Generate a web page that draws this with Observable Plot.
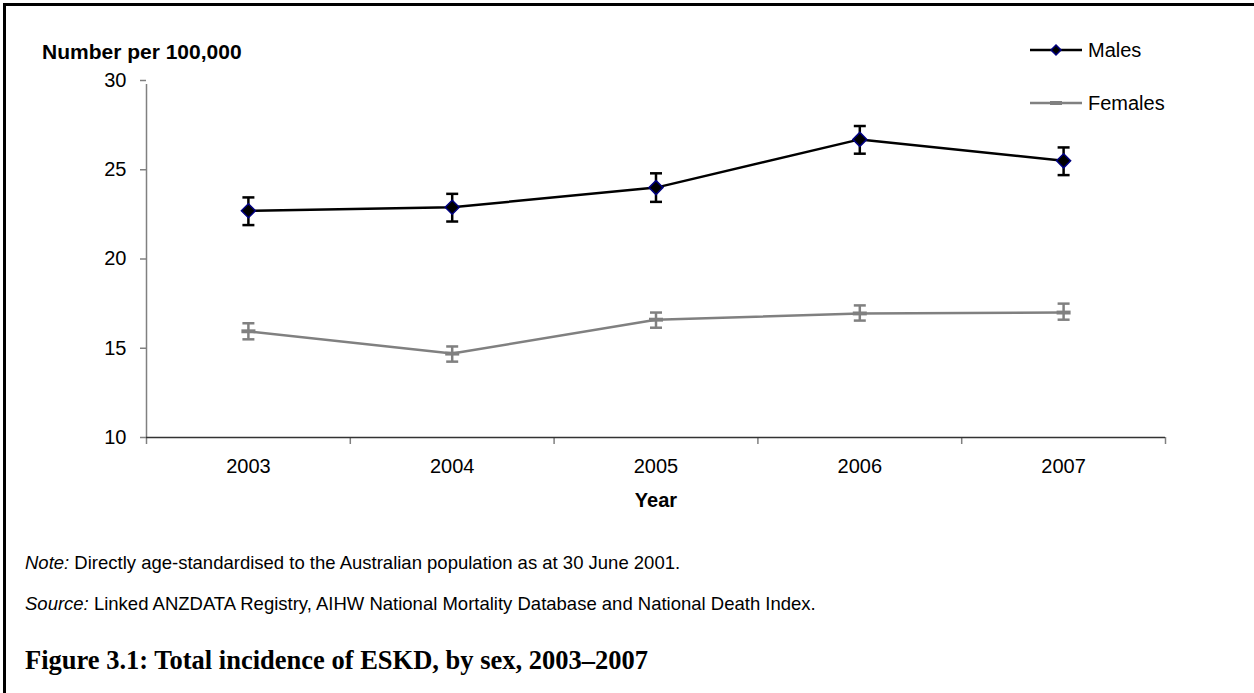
<!DOCTYPE html>
<html>
<head>
<meta charset="utf-8">
<script src="https://cdn.jsdelivr.net/npm/d3@7"></script>
<script src="https://cdn.jsdelivr.net/npm/@observablehq/plot@0.6"></script>
<style>
  html, body { margin: 0; padding: 0; background: #fff; }
  #wrap { position: relative; width: 1254px; height: 693px; overflow: hidden; font-family: "Liberation Sans", Arial, sans-serif; color: #000; }
  .abs { position: absolute; white-space: nowrap; }
  #frameTop { position: absolute; left: 3px; top: 3px; width: 1251px; height: 3px; background: #000; }
  #frameLeft { position: absolute; left: 3px; top: 3px; width: 3px; height: 690px; background: #000; }
</style>
</head>
<body>
<div id="wrap">
  <div id="chart" class="abs" style="left:0;top:0"></div>
  <div id="frameTop"></div>
  <div id="frameLeft"></div>
  <div class="abs" id="ylab" style="left:42px;top:40px;font-weight:bold;font-size:21px;line-height:24px"></div>
  <div class="abs" id="xlab" style="left:656px;top:488px;font-weight:bold;font-size:20px;line-height:24px;transform:translateX(-50%)"></div>
  <svg id="legend" class="abs" style="left:1020px;top:30px" width="234" height="100"></svg>
  <div class="abs" id="note" style="left:25px;top:552px;font-size:18.5px;line-height:22px"></div>
  <div class="abs" id="source" style="left:25px;top:593px;font-size:18.5px;line-height:22px"></div>
  <div class="abs" id="title" style="left:25px;top:645px;font-family:'Liberation Serif','Times New Roman',serif;font-weight:bold;font-size:26.5px;line-height:30px"></div>
</div>
<script>
// ---- data ----
const years = [2003, 2004, 2005, 2006, 2007];
const series = ["Males", "Females"];
const malesRate = [22.7, 22.9, 24.0, 26.7, 25.5];
const malesLow  = [21.9, 22.1, 23.2, 25.9, 24.7];
const malesHigh = [23.45, 23.65, 24.8, 27.45, 26.25];
const femalesRate = [15.95, 14.7, 16.6, 16.95, 17.0];
const femalesLow  = [15.5, 14.25, 16.15, 16.55, 16.6];
const femalesHigh = [16.4, 15.1, 17.0, 17.4, 17.5];
const yTicks = [10, 15, 20, 25, 30];
const yAxisTitle = "Number per 100,000";
const xAxisTitle = "Year";
const noteText = "Directly age-standardised to the Australian population as at 30 June 2001.";
const sourceText = "Linked ANZDATA Registry, AIHW National Mortality Database and National Death Index.";
const figureTitle = "Figure 3.1: Total incidence of ESKD, by sex, 2003\u20132007";

// ---- build table ----
const rows = [];
years.forEach((yr, i) => {
  rows.push({year: yr, sex: "Males", value: malesRate[i], lo: malesLow[i], hi: malesHigh[i]});
});
years.forEach((yr, i) => {
  rows.push({year: yr, sex: "Females", value: femalesRate[i], lo: femalesLow[i], hi: femalesHigh[i]});
});
const males = rows.filter(d => d.sex === "Males");
const females = rows.filter(d => d.sex === "Females");
const boundaries = [years[0] - 0.5, ...years.map(y => y + 0.5)];

const colors = {Males: "#000000", Females: "#808080"};

// custom symbols
const capSymbol = { draw(ctx, size) { const r = Math.sqrt(size / Math.PI); ctx.moveTo(-r, 0); ctx.lineTo(r, 0); } };
const diamondSymbol = { draw(ctx, size) { const r = Math.sqrt(size / Math.PI); ctx.moveTo(0, -r); ctx.lineTo(r, 0); ctx.lineTo(0, r); ctx.lineTo(-r, 0); ctx.closePath(); } };
const dashSymbol = { draw(ctx, size) { const r = Math.sqrt(size / Math.PI); const h = r * 0.28; ctx.moveTo(-r, -h); ctx.lineTo(r, -h); ctx.lineTo(r, h); ctx.lineTo(-r, h); ctx.closePath(); } };

const W = 1254, H = 500;
const plot = Plot.plot({
  width: W, height: H,
  marginLeft: 146, marginRight: 89, marginTop: 80, marginBottom: H - 437,
  style: {fontFamily: "'Liberation Sans', Arial, sans-serif", fontSize: "20px", color: "#000", background: "transparent"},
  x: {domain: [boundaries[0], boundaries[boundaries.length - 1]], axis: null},
  y: {domain: [10, 30], axis: null},
  color: {domain: series, range: [colors.Males, colors.Females]},
  marks: [
    // y axis
    Plot.ruleX([boundaries[0]], {stroke: "#808080", strokeWidth: 1.5, y1: 10, y2: 30, insetBottom: -4}),
    Plot.axisY({ticks: yTicks, tickSize: 6, tickPadding: 14, stroke: "#808080", strokeWidth: 1.5, fill: "#000", fontSize: 20, label: null, tickFormat: d => String(d)}),
    // x axis
    Plot.axisX({ticks: boundaries, tickSize: 7, stroke: "#808080", strokeWidth: 1.5, tickFormat: () => "", label: null}),
    Plot.axisX({ticks: years, tickSize: 0, tickPadding: 21, fill: "#000", fontSize: 20, tickFormat: d => String(d), label: null}),
    Plot.ruleY([10], {stroke: "#333", strokeWidth: 1.5}),
    // lines
    Plot.line(rows, {x: "year", y: "value", z: "sex", stroke: "sex", strokeWidth: 2.5}),
    // error bars
    Plot.ruleX(rows, {x: "year", y1: "lo", y2: "hi", stroke: "sex", strokeWidth: 2.5}),
    Plot.dot(rows, {x: "year", y: "lo", symbol: capSymbol, r: 6, stroke: "sex", strokeWidth: 2.5}),
    Plot.dot(rows, {x: "year", y: "hi", symbol: capSymbol, r: 6, stroke: "sex", strokeWidth: 2.5}),
    // markers
    Plot.dot(males, {x: "year", y: "value", symbol: diamondSymbol, r: 7, fill: "#000", stroke: "#000080", strokeWidth: 1.5}),
    Plot.dot(females, {x: "year", y: "value", symbol: dashSymbol, r: 7, fill: "#808080", stroke: "none"})
  ]
});
document.getElementById("chart").appendChild(plot);

// texts
document.getElementById("ylab").textContent = yAxisTitle;
document.getElementById("xlab").textContent = xAxisTitle;
document.getElementById("note").innerHTML = "<i>Note:</i> " + noteText;
document.getElementById("source").innerHTML = "<i>Source:</i> " + sourceText;
document.getElementById("title").textContent = figureTitle;

// legend
const lg = d3.select("#legend");
const lx0 = 10, lx1 = 62, lmx = 36;
const rowsY = {Males: 20, Females: 73};
series.forEach(s => {
  const g = lg.append("g").attr("transform", `translate(0,${rowsY[s]})`);
  g.append("line").attr("x1", lx0).attr("x2", lx1).attr("y1", 0).attr("y2", 0)
    .attr("stroke", colors[s]).attr("stroke-width", 2.5);
  if (s === "Males") {
    g.append("path").attr("d", "M36,-5L41,0L36,5L31,0Z").attr("fill", "#000").attr("stroke", "#000080").attr("stroke-width", 1.5);
  } else {
    g.append("rect").attr("x", lmx - 6).attr("y", -2).attr("width", 12).attr("height", 4).attr("fill", "#808080");
  }
  g.append("text").attr("x", 68).attr("y", 0).attr("dy", "0.35em")
    .attr("font-family", "'Liberation Sans', Arial, sans-serif").attr("font-size", 20).text(s);
});
</script>
</body>
</html>
